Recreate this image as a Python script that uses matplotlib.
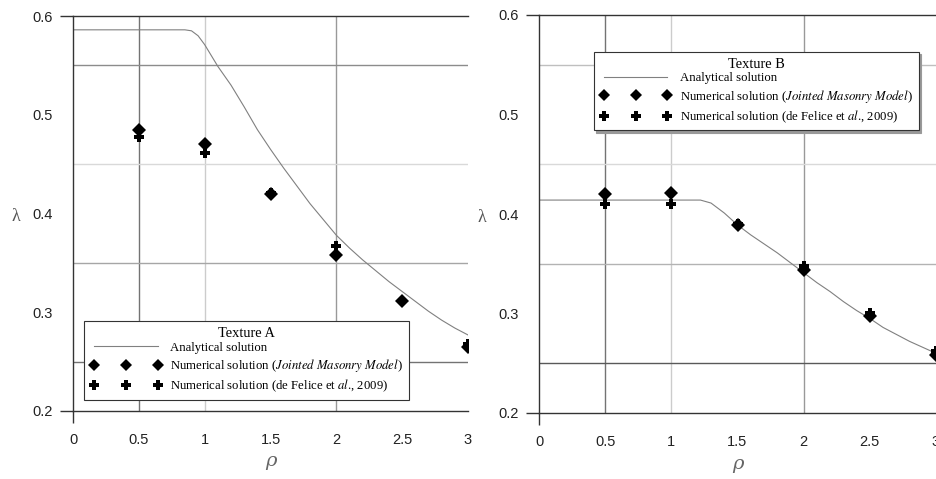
import matplotlib.pyplot as plt
import numpy as np

plt.rcParams['mathtext.fontset'] = 'stix'

# ---- data ----
rho_pts = [0.5, 1.0, 1.5, 2.0, 2.5, 3.0]

# Texture A
a_jmm = [0.485, 0.470, 0.420, 0.358, 0.311, 0.265]
a_felice = [0.477, 0.461, 0.421, 0.367, 0.311, 0.268]
a_curve_x = [0.0, 0.85, 0.9, 0.95, 1.0, 1.1, 1.2, 1.3, 1.4, 1.5, 1.6, 1.7, 1.8, 1.9,
             2.0, 2.1, 2.2, 2.3, 2.4, 2.5, 2.6, 2.7, 2.8, 2.9, 3.0]
a_curve_y = [0.586, 0.586, 0.585, 0.580, 0.571, 0.549, 0.530, 0.508, 0.485, 0.465, 0.446,
             0.428, 0.410, 0.394, 0.378, 0.365, 0.353, 0.342, 0.331, 0.321, 0.311, 0.301,
             0.292, 0.284, 0.277]

# Texture B
b_jmm = [0.420, 0.421, 0.389, 0.344, 0.297, 0.258]
b_felice = [0.410, 0.410, 0.390, 0.348, 0.301, 0.262]
b_curve_x = [0.0, 1.22, 1.3, 1.4, 1.5, 1.6, 1.7, 1.8, 1.9, 2.0, 2.1, 2.2, 2.3, 2.4,
             2.5, 2.6, 2.7, 2.8, 2.9, 3.0]
b_curve_y = [0.414, 0.414, 0.411, 0.401, 0.389, 0.379, 0.370, 0.361, 0.351, 0.341, 0.331,
             0.322, 0.312, 0.303, 0.295, 0.286, 0.279, 0.272, 0.266, 0.260]

xticks = [0, 0.5, 1, 1.5, 2, 2.5, 3]
xtick_labels = ['0', '0.5', '1', '1.5', '2', '2.5', '3']
yticks = [0.2, 0.3, 0.4, 0.5, 0.6]
ytick_labels = ['0.2', '0.3', '0.4', '0.5', '0.6']

# grid lines (position, grey level)
vgrid = [(0.5, '0.45'), (1.0, '0.8'), (2.0, '0.6')]
hgrid_a = [(0.55, '0.55'), (0.45, '0.85'), (0.35, '0.65'), (0.25, '0.45')]
hgrid_b = [(0.55, '0.75'), (0.45, '0.85'), (0.35, '0.7'), (0.25, '0.35')]

fig = plt.figure(figsize=(9.36, 4.79), dpi=100)
ax1 = fig.add_axes([73 / 936, 1 - 411 / 479, 395 / 936, 395 / 479])
ax2 = fig.add_axes([539 / 936, 1 - 413 / 479, 397 / 936, 398 / 479])


def draw_panel(ax, cx, cy, jmm, fel, hgrid, title, legend_anchor, shadow):
    for x, c in vgrid:
        ax.axvline(x, color=c, lw=1.0, zorder=0)
    for y, c in hgrid:
        ax.axhline(y, color=c, lw=1.0, zorder=0)

    ax.plot(cx, cy, color='0.5', lw=0.8, zorder=2, label='Analytical solution')
    ax.plot(rho_pts, fel, ls='none', marker='P', ms=7.5, color='black', mew=0,
            zorder=3, label='Numerical solution (de Felice et $\\mathit{al}$., 2009)')
    ax.plot(rho_pts, jmm, ls='none', marker='D', ms=6.8, color='black', mew=0,
            zorder=4, label='Numerical solution ($\\mathit{Jointed\\ Masonry\\ Model}$)')

    ax.set_xlim(0, 3)
    ax.set_ylim(0.2, 0.6)
    ax.set_xticks(xticks)
    ax.set_xticklabels(xtick_labels, fontfamily='Liberation Sans', fontsize=10.5, color='#222')
    ax.set_yticks(yticks)
    ax.set_yticklabels(ytick_labels, fontfamily='Liberation Sans', fontsize=10.5, color='#222')
    ax.tick_params(axis='y', length=9.4, width=1.0, color='#333', pad=5)
    ax.tick_params(axis='x', length=8.6, width=1.0, color='#333', pad=7)
    for t in ax.yaxis.get_major_ticks()[1:-1]:
        t.tick1line.set_visible(False)
    for t in ax.xaxis.get_major_ticks()[1:]:
        t.tick1line.set_visible(False)

    for side in ['left', 'top', 'bottom']:
        ax.spines[side].set_color('#333')
        ax.spines[side].set_linewidth(1.0)
    ax.spines['right'].set_visible(False)

    ax.set_ylabel('λ', rotation=0, fontfamily='Liberation Serif', fontsize=13, color='#555')
    ax.yaxis.set_label_coords(-0.145, 0.47)
    ax.set_xlabel('ρ', fontfamily='DejaVu Serif', fontstyle='italic', fontsize=14, color='#666')
    ax.xaxis.set_label_coords(0.5, -0.105)

    h, l = ax.get_legend_handles_labels()
    order = [0, 2, 1]
    leg = ax.legend([h[i] for i in order], [l[i] for i in order], title=title,
                    loc=legend_anchor[0], bbox_to_anchor=legend_anchor[1],
                    borderaxespad=0,
                    numpoints=3, markerscale=0.9, handlelength=5.6, handletextpad=0.7,
                    labelspacing=0.28, borderpad=0.45, fancybox=False, framealpha=1,
                    edgecolor='#333', shadow=shadow,
                    prop={'family': 'Liberation Serif', 'size': 9.2},
                    title_fontproperties={'family': 'Liberation Serif', 'size': 10.4})
    leg.get_frame().set_linewidth(0.8)
    leg._legend_box.sep = 1
    return leg


draw_panel(ax1, a_curve_x, a_curve_y, a_jmm, a_felice, hgrid_a, 'Texture A',
           ('lower left', (0.028, 0.028)), False)
draw_panel(ax2, b_curve_x, b_curve_y, b_jmm, b_felice, hgrid_b, 'Texture B',
           ('upper left', (0.1385, 0.907)), {'ox': 1.5, 'oy': -1.5, 'color': '0.6', 'alpha': 1})

fig.savefig('out.png', dpi=100)
